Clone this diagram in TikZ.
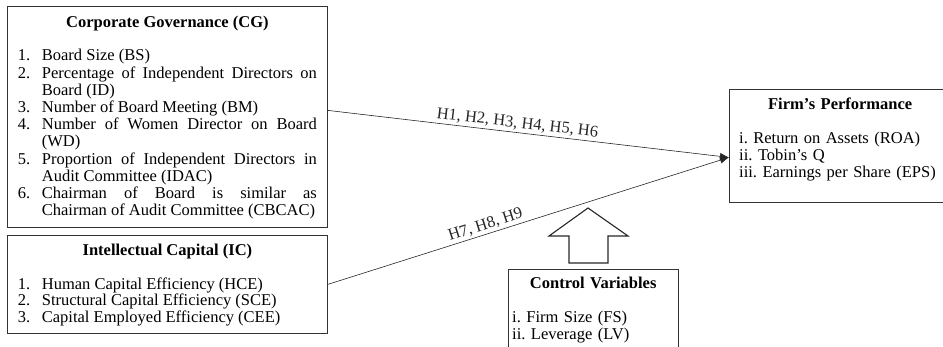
\documentclass[tikz,border=0pt]{standalone}
\usepackage{fontspec}
\setmainfont{Liberation Serif}
\usetikzlibrary{positioning,arrows.meta,calc}
\frenchspacing

% numbered item with hanging indent
\newcommand{\numitem}[2]{\par\hangindent=24pt\hangafter=1\noindent\hbox to 24pt{#1\hfil}#2}

\begin{document}
\begin{tikzpicture}[x=1pt,y=-1pt,
    frame/.style={draw=black!80, line width=0.8pt, anchor=north west, inner sep=0},
    boxtext/.style={anchor=north, inner sep=0, align=justify, font=\fontsize{16.5}{17.2}\selectfont},
    listtext/.style={anchor=north west, inner sep=0, align=left, font=\fontsize{16.5}{17}\selectfont},
    link/.style={-{Latex[length=9pt,width=7pt]}, line width=0.6pt, black!85},
    hyp/.style={font=\fontsize{16.5}{17}\selectfont, sloped, above, inner sep=2pt}
]
\clip (0,0) rectangle (943,347);

% Frames
\node[frame, minimum width=320, minimum height=221] (cg) at (7,6) {};
\node[frame, minimum width=320, minimum height=98] (ic) at (7,235) {};
\node[frame, minimum width=230, minimum height=113] (fp) at (729,89) {};
\node[frame, minimum width=170, minimum height=90] (cv) at (508,269) {};

% Corporate governance
\node[boxtext, text width=299] (cgtext) at ([yshift=-10pt]cg.north) {%
  {\bfseries\centering Corporate Governance (CG)\par}\vspace{16pt}
  \numitem{1.}{Board Size (BS)}
  \numitem{2.}{Percentage of Independent Directors on\linebreak Board (ID)}
  \numitem{3.}{Number of Board Meeting (BM)}
  \numitem{4.}{Number of Women Director on Board\linebreak (WD)}
  \numitem{5.}{Proportion of Independent Directors in\linebreak Audit Committee (IDAC)}
  \numitem{6.}{Chairman of Board is similar as\linebreak Chairman of Audit Committee (CBCAC)}\par};

% Intellectual capital
\node[boxtext, text width=299, font=\fontsize{16.5}{16.5}\selectfont] (ictext) at ([yshift=-9pt]ic.north) {%
  {\bfseries\centering Intellectual Capital (IC)\par}\vspace{17pt}
  \numitem{1.}{Human Capital Efficiency (HCE)}
  \numitem{2.}{Structural Capital Efficiency (SCE)}
  \numitem{3.}{Capital Employed Efficiency (CEE)}\par};

% Firm's performance
\node[listtext, text width=202] (fptext) at ([shift={(10pt,-8.6pt)}]fp.north west) {%
  {\bfseries\centering Firm’s Performance\par}\vspace{17pt}
  i. Return on Assets (ROA)\\
  ii. Tobin’s Q\\
  iii. Earnings per Share (EPS)};

% Control variables
\node[listtext, text width=162] (cvtext) at ([shift={(4pt,-8pt)}]cv.north west) {%
  {\bfseries\centering Control Variables\par}\vspace{17pt}
  i. Firm Size (FS)\\
  ii. Leverage (LV)};

% Connectors
\coordinate (fpin) at ([yshift=-11.5pt]fp.west);
\coordinate (cgout) at ([yshift=6.5pt]cg.east);
\draw[link] (cgout) -- node[hyp, pos=0.47] (h16) {H1, H2, H3, H4, H5, H6} (fpin);
\draw[link] (ic.east) -- node[hyp, pos=0.40] (h79) {H7, H8, H9} (fpin);

% Block arrow from control variables
\draw[black!85, line width=1.1pt] (569,263) -- (569,236) -- (549,236) -- (588,208)
  -- (628,236) -- (608,236) -- (608,263) -- cycle;

\end{tikzpicture}
\end{document}
